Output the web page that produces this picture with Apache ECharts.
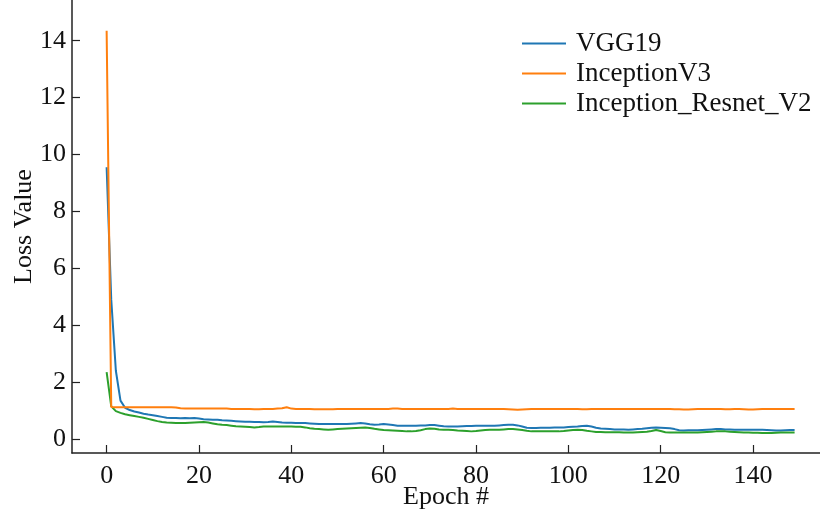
<!DOCTYPE html>
<html>
<head>
<meta charset="utf-8">
<script src="https://cdn.jsdelivr.net/npm/echarts@6/dist/echarts.min.js"></script>
<style>html,body{margin:0;padding:0;background:#fff}#c{width:820px;height:514px}</style>
</head>
<body>
<div id="c"></div>
<script>
const seriesNames = ['VGG19', 'InceptionV3', 'Inception_Resnet_V2'];
const xTicks = [0, 20, 40, 60, 80, 100, 120, 140];
const yTicks = [0, 2, 4, 6, 8, 10, 12, 14];

const vgg19 = [
  9.55, 4.90, 2.40, 1.35, 1.10, 1.02, 0.97, 0.93, 0.89, 0.86,
  0.84, 0.81, 0.78, 0.75, 0.74, 0.74, 0.73, 0.74, 0.73, 0.74,
  0.72, 0.70, 0.69, 0.68, 0.68, 0.66, 0.65, 0.64, 0.63, 0.62,
  0.61, 0.61, 0.60, 0.60, 0.59, 0.60, 0.62, 0.60, 0.58, 0.57,
  0.57, 0.56, 0.56, 0.56, 0.55, 0.54, 0.53, 0.53, 0.53, 0.53,
  0.53, 0.53, 0.53, 0.54, 0.55, 0.56, 0.55, 0.52, 0.50, 0.51,
  0.53, 0.51, 0.49, 0.47, 0.47, 0.47, 0.47, 0.47, 0.48, 0.48,
  0.49, 0.49, 0.47, 0.45, 0.44, 0.44, 0.44, 0.45, 0.46, 0.46,
  0.47, 0.47, 0.47, 0.47, 0.47, 0.48, 0.49, 0.50, 0.50, 0.48,
  0.44, 0.40, 0.39, 0.39, 0.40, 0.40, 0.40, 0.41, 0.41, 0.41,
  0.42, 0.43, 0.44, 0.46, 0.47, 0.44, 0.40, 0.37, 0.36, 0.35,
  0.34, 0.34, 0.34, 0.33, 0.34, 0.35, 0.36, 0.38, 0.40, 0.41,
  0.40, 0.39, 0.38, 0.35, 0.31, 0.30, 0.31, 0.31, 0.31, 0.32,
  0.33, 0.34, 0.35, 0.35, 0.34, 0.34, 0.33, 0.33, 0.33, 0.33,
  0.33, 0.33, 0.33, 0.32, 0.31, 0.30, 0.30, 0.31, 0.32, 0.32
];
const inceptionV3 = [
  14.35, 1.13, 1.12, 1.12, 1.12, 1.12, 1.12, 1.12, 1.12, 1.12,
  1.12, 1.12, 1.12, 1.12, 1.12, 1.11, 1.08, 1.07, 1.07, 1.07,
  1.07, 1.07, 1.07, 1.07, 1.07, 1.07, 1.07, 1.06, 1.06, 1.06,
  1.06, 1.06, 1.05, 1.05, 1.06, 1.06, 1.06, 1.07, 1.08, 1.12,
  1.07, 1.06, 1.06, 1.06, 1.06, 1.05, 1.05, 1.05, 1.05, 1.05,
  1.06, 1.06, 1.06, 1.06, 1.06, 1.06, 1.06, 1.06, 1.06, 1.06,
  1.06, 1.06, 1.07, 1.07, 1.06, 1.06, 1.06, 1.06, 1.06, 1.06,
  1.06, 1.06, 1.06, 1.06, 1.06, 1.07, 1.06, 1.06, 1.06, 1.06,
  1.06, 1.06, 1.06, 1.06, 1.06, 1.06, 1.06, 1.05, 1.04, 1.03,
  1.04, 1.05, 1.06, 1.06, 1.06, 1.06, 1.06, 1.06, 1.06, 1.06,
  1.06, 1.06, 1.06, 1.05, 1.05, 1.06, 1.06, 1.06, 1.06, 1.06,
  1.06, 1.06, 1.06, 1.06, 1.06, 1.06, 1.06, 1.06, 1.06, 1.06,
  1.06, 1.06, 1.06, 1.05, 1.05, 1.04, 1.04, 1.05, 1.06, 1.06,
  1.06, 1.06, 1.06, 1.06, 1.05, 1.05, 1.06, 1.06, 1.05, 1.04,
  1.04, 1.05, 1.06, 1.06, 1.06, 1.06, 1.06, 1.06, 1.06, 1.06
];
const inceptionResnetV2 = [
  2.35, 1.15, 0.98, 0.92, 0.87, 0.84, 0.81, 0.78, 0.75, 0.71,
  0.67, 0.63, 0.60, 0.58, 0.57, 0.56, 0.56, 0.56, 0.57, 0.58,
  0.59, 0.60, 0.58, 0.55, 0.52, 0.50, 0.49, 0.47, 0.45, 0.44,
  0.43, 0.42, 0.41, 0.42, 0.44, 0.44, 0.44, 0.44, 0.44, 0.44,
  0.44, 0.43, 0.43, 0.41, 0.38, 0.36, 0.35, 0.34, 0.33, 0.34,
  0.35, 0.36, 0.37, 0.38, 0.39, 0.40, 0.41, 0.39, 0.36, 0.34,
  0.32, 0.31, 0.30, 0.29, 0.28, 0.27, 0.27, 0.28, 0.31, 0.35,
  0.37, 0.36, 0.34, 0.33, 0.33, 0.32, 0.30, 0.29, 0.28, 0.27,
  0.28, 0.30, 0.32, 0.33, 0.33, 0.33, 0.34, 0.35, 0.35, 0.34,
  0.32, 0.29, 0.27, 0.27, 0.27, 0.27, 0.27, 0.27, 0.27, 0.28,
  0.30, 0.32, 0.33, 0.32, 0.29, 0.27, 0.25, 0.25, 0.24, 0.24,
  0.24, 0.24, 0.23, 0.23, 0.23, 0.24, 0.25, 0.26, 0.28, 0.32,
  0.28, 0.24, 0.23, 0.23, 0.23, 0.23, 0.23, 0.23, 0.23, 0.24,
  0.25, 0.26, 0.27, 0.27, 0.27, 0.26, 0.25, 0.24, 0.23, 0.23,
  0.22, 0.22, 0.21, 0.21, 0.21, 0.22, 0.23, 0.23, 0.23, 0.23
];
const colors = ['#1f77b4', '#ff7f0e', '#2ca02c'];

const FONT = 'Liberation Serif';
const chart = echarts.init(document.getElementById('c'), null, {renderer: 'canvas'});
const toPairs = arr => arr.map((v, i) => [i, v]);
const allData = [vgg19, inceptionV3, inceptionResnetV2];

chart.setOption({
  animation: false,
  backgroundColor: '#fff',
  textStyle: {fontFamily: FONT},
  grid: {left: 72, right: 0, top: 0, bottom: 61, containLabel: false, outerBoundsMode: 'none'},
  legend: {
    orient: 'vertical',
    left: 522,
    top: 30,
    padding: 0,
    icon: 'rect',
    itemWidth: 44,
    itemHeight: 2,
    itemGap: 3,
    textStyle: {fontFamily: FONT, fontSize: 27, color: '#111', padding: [0, 0, 0, 5]},
    data: seriesNames
  },
  xAxis: {
    type: 'value',
    min: -7.5,
    max: 154.5,
    name: 'Epoch #',
    nameLocation: 'middle',
    nameGap: 31,
    nameMoveOverlap: false,
    nameTextStyle: {fontFamily: FONT, fontSize: 26, color: '#111'},
    axisLine: {onZero: false, lineStyle: {color: '#222', width: 1.5}},
    axisTick: {show: true, inside: true, length: 8, customValues: xTicks, lineStyle: {color: '#222', width: 1.2}},
    axisLabel: {customValues: xTicks, fontFamily: FONT, fontSize: 26, color: '#111', margin: 10},
    splitLine: {show: false}
  },
  yAxis: {
    type: 'value',
    min: -0.49,
    max: 15.43,
    name: 'Loss Value',
    nameLocation: 'middle',
    nameRotate: 90,
    nameGap: 35,
    nameMoveOverlap: false,
    nameTextStyle: {fontFamily: FONT, fontSize: 26, color: '#111'},
    axisLine: {show: true, onZero: false, lineStyle: {color: '#222', width: 1.5}},
    axisTick: {show: true, inside: true, length: 8, customValues: yTicks, lineStyle: {color: '#222', width: 1.2}},
    axisLabel: {customValues: yTicks, fontFamily: FONT, fontSize: 26, color: '#111', margin: 6},
    splitLine: {show: false}
  },
  series: seriesNames.map((name, k) => ({
    name: name,
    type: 'line',
    data: toPairs(allData[k]),
    showSymbol: false,
    symbol: 'none',
    lineStyle: {color: colors[k], width: 2},
    itemStyle: {color: colors[k]},
    z: k === 1 ? 3 : 2
  }))
});
</script>
</body>
</html>
